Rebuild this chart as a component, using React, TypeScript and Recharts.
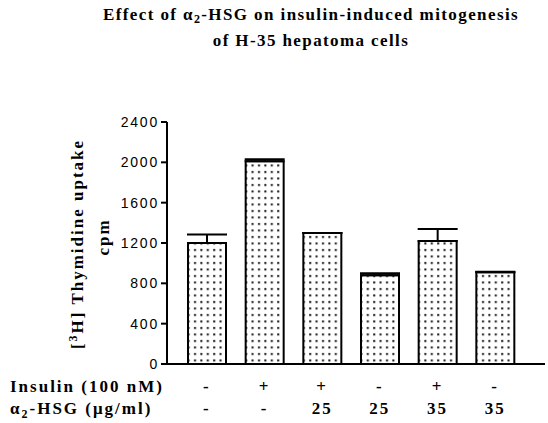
import { Bar, BarChart, ErrorBar, XAxis, YAxis } from "recharts";

const groups = ["ctrl", "ins", "ins+25", "25", "ins+35", "35"];
const insulinRow = ["-", "+", "+", "-", "+", "-"];
const hsgRow = ["-", "-", "25", "25", "35", "35"];
const uptake = [1200, 2010, 1300, 880, 1220, 910];
const uptakeSem = [85, 20, 0, 20, 120, 5];
const yTicks = [0, 400, 800, 1200, 1600, 2000, 2400];

const data = groups.map((g, i) => ({
  group: g,
  uptake: uptake[i],
  err: [0, uptakeSem[i]],
}));

const serif = "Liberation Serif";
const sans = "Liberation Sans";

function ConditionTick(props: any) {
  const { x, y, index } = props;
  const common = {
    fontFamily: serif,
    fontWeight: 700,
    fontSize: 17,
    letterSpacing: 2,
    fill: "#000",
  };
  return (
    <g>
      {index === 0 && (
        <>
          <text x={10} y={y + 20} {...common}>
            Insulin (100 nM)
          </text>
          <text x={10} y={y + 42} {...common}>
            α<tspan fontSize={12} dy={4}>2</tspan>
            <tspan dy={-4}>-HSG (μg/ml)</tspan>
          </text>
        </>
      )}
      <text x={x} y={y + 20} textAnchor="middle" {...common}>
        {insulinRow[index]}
      </text>
      <text x={x} y={y + 42} textAnchor="middle" {...common}>
        {hsgRow[index]}
      </text>
    </g>
  );
}

function YLabel() {
  const common = {
    fontFamily: serif,
    fontWeight: 700,
    fontSize: 17,
    letterSpacing: 2,
    fill: "#000",
    textAnchor: "middle" as const,
  };
  return (
    <g>
      <text x={0} y={0} transform="translate(83 244) rotate(-90)" {...common}>
        [<tspan fontSize={12} dy={-6}>3</tspan>
        <tspan dy={6}>H] Thymidine uptake</tspan>
      </text>
      <text x={0} y={0} transform="translate(109 237) rotate(-90)" {...common}>
        cpm
      </text>
    </g>
  );
}

export default function App() {
  return (
    <div style={{ position: "absolute", left: 0, top: 0, width: 548, height: 423, background: "#fff" }}>
      <div
        style={{
          position: "absolute",
          left: 60,
          width: 502,
          top: 2,
          textAlign: "center",
          fontFamily: serif,
          fontWeight: 700,
          fontSize: 17,
          letterSpacing: 1.4,
          lineHeight: "26px",
        }}
      >
        Effect of α<sub style={{ fontSize: 12, verticalAlign: -3, lineHeight: 0 }}>2</sub>-HSG on insulin-induced mitogenesis
        <br />
        of H-35 hepatoma cells
      </div>
      <BarChart
        width={548}
        height={423}
        data={data}
        margin={{ top: 122, right: 3, bottom: 0, left: 0 }}
        style={{ position: "absolute", left: 0, top: 0 }}
      >
        <defs>
          <pattern id="dots" width="6.4" height="6.5" patternUnits="userSpaceOnUse">
            <rect x="2" y="2" width="2" height="2" fill="#111" />
          </pattern>
        </defs>
        <XAxis
          dataKey="group"
          padding={{ left: 11, right: 21 }}
          axisLine={{ stroke: "#000", strokeWidth: 2 }}
          tickLine={false}
          interval={0}
          tick={<ConditionTick />}
          height={59}
        />
        <YAxis
          width={167}
          domain={[0, 2400]}
          ticks={yTicks}
          interval={0}
          axisLine={{ stroke: "#000", strokeWidth: 2 }}
          tickLine={{ stroke: "#000", strokeWidth: 2 }}
          tickSize={6}
          tick={{ fontFamily: sans, fontSize: 14, fill: "#000", letterSpacing: 1.8 }}
          label={<YLabel />}
        />
        <Bar dataKey="uptake" barSize={38} fill="url(#dots)" stroke="#000" strokeWidth={2} isAnimationActive={false}>
          <ErrorBar dataKey="err" width={20} stroke="#000" strokeWidth={2} direction="y" />
        </Bar>
      </BarChart>
    </div>
  );
}
